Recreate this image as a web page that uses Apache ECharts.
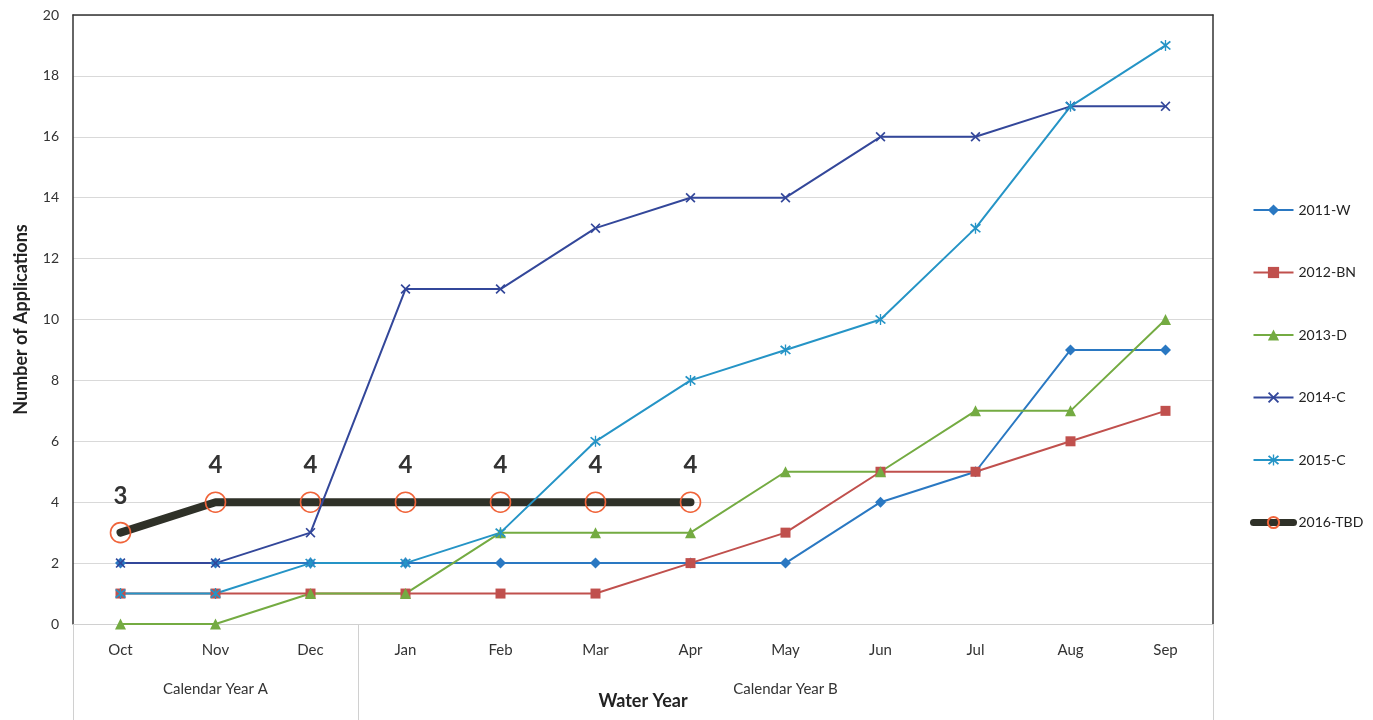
<!DOCTYPE html>
<html>
<head>
<meta charset="utf-8">
<script src="https://cdn.jsdelivr.net/npm/echarts@6/dist/echarts.min.js"></script>
<style>html,body{margin:0;padding:0;background:#fff}#c{width:1373px;height:720px}</style>
</head>
<body>
<div id="c"></div>
<script>
const months = ['Oct','Nov','Dec','Jan','Feb','Mar','Apr','May','Jun','Jul','Aug','Sep'];
const groupLabels = {1:'Calendar Year A', 7:'Calendar Year B'};
const groupBoundaries = [0, 3, 12];
const s2011 = [2,2,2,2,2,2,2,2,4,5,9,9];
const s2012 = [1,1,1,1,1,1,2,3,5,5,6,7];
const s2013 = [0,0,1,1,3,3,3,5,5,7,7,10];
const s2014 = [2,2,3,11,11,13,14,14,16,16,17,17];
const s2015 = [1,1,2,2,3,6,8,9,10,13,17,19];
const s2016 = [3,4,4,4,4,4,4,null,null,null,null,null];
const yTicks = {min:0, max:20, interval:2};

const FONT = 'Lato';
const xPath = 'path://M0,1.2 L1.2,0 L5,3.8 L8.8,0 L10,1.2 L6.2,5 L10,8.8 L8.8,10 L5,6.2 L1.2,10 L0,8.8 L3.8,5 Z';
const starPath = 'path://M0,1.2 L1.2,0 L5,3.8 L8.8,0 L10,1.2 L6.2,5 L10,8.8 L8.8,10 L5,6.2 L1.2,10 L0,8.8 L3.8,5 Z M4.4,-1 L5.6,-1 L5.6,11 L4.4,11 Z';

function mk(name, data, color, symbol, size){
  return {name, type:'line', data, color, symbol, symbolSize:size, z:3,
    lineStyle:{width:2, color}, itemStyle:{color}, emphasis:{disabled:true}};
}

const chart = echarts.init(document.getElementById('c'), null, {renderer:'canvas'});
chart.setOption({
  animation:false,
  textStyle:{fontFamily:FONT},
  grid:{left:73, right:160, top:15, bottom:96},
  legend:{
    orient:'vertical', left:1245, top:198, itemGap:48.5, itemWidth:40, itemHeight:14,
    textStyle:{fontSize:14, color:'#222', fontFamily:FONT},
    data:['2011-W','2012-BN','2013-D','2014-C','2015-C',
      {name:'2016-TBD', lineStyle:{width:7}}]
  },
  xAxis:[{
    type:'category', data:months, boundaryGap:true, position:'bottom',
    axisLine:{show:true, lineStyle:{color:'#d0d0d0', width:1}},
    axisTick:{show:true, length:96, interval:(i)=>groupBoundaries.includes(i), lineStyle:{color:'#d0d0d0'}},
    axisLabel:{fontSize:15, color:'#333', margin:19, fontFamily:FONT},
    name:'Water Year', nameLocation:'middle', nameGap:68,
    nameTextStyle:{fontSize:18, fontWeight:'bold', color:'#222', fontFamily:FONT}
  },{
    type:'category', data:months, boundaryGap:true, position:'bottom', offset:50,
    axisLine:{show:false}, axisTick:{show:false},
    axisLabel:{interval:0, fontSize:15, color:'#333', fontFamily:FONT,
      formatter:(v, i)=> groupLabels[i] || ''}
  },{
    type:'category', data:months, position:'top',
    axisLine:{show:true, lineStyle:{color:'#333', width:1.5}}, axisTick:{show:false}, axisLabel:{show:false}
  }],
  yAxis:[{
    type:'value', min:yTicks.min, max:yTicks.max, interval:yTicks.interval,
    axisLine:{show:true, lineStyle:{color:'#333', width:1.5}},
    axisTick:{show:false},
    splitLine:{show:true, lineStyle:{color:'#d9d9d9', width:1}},
    axisLabel:{fontSize:14, color:'#333', margin:14, fontFamily:FONT},
    name:'Number of Applications', nameLocation:'middle', nameGap:43,
    nameTextStyle:{fontSize:18, fontWeight:'bold', color:'#222', fontFamily:FONT}
  },{
    type:'value', min:yTicks.min, max:yTicks.max, interval:yTicks.interval, position:'right',
    axisLine:{show:true, lineStyle:{color:'#333', width:1.5}},
    axisTick:{show:false}, axisLabel:{show:false}, splitLine:{show:false}
  }],
  series:[
    mk('2011-W', s2011, '#2a78c2', 'diamond', 11),
    mk('2012-BN', s2012, '#c0504d', 'rect', 10),
    mk('2013-D', s2013, '#74ab42', 'triangle', 11),
    mk('2014-C', s2014, '#33479a', xPath, 10),
    mk('2015-C', s2015, '#2594c6', starPath, 11),
    {name:'2016-TBD', type:'line', data:s2016, z:2, color:'#2f3128',
      symbol:'circle', symbolSize:20, showAllSymbol:true,
      lineStyle:{width:8, color:'#2f3128', cap:'round'},
      itemStyle:{color:'rgba(255,255,255,0)', borderColor:'#f0643a', borderWidth:1.6},
      label:{show:true, position:'top', distance:14, fontSize:24, fontWeight:'bold', color:'#333', fontFamily:FONT},
      emphasis:{disabled:true}}
  ]
});
</script>
</body>
</html>
